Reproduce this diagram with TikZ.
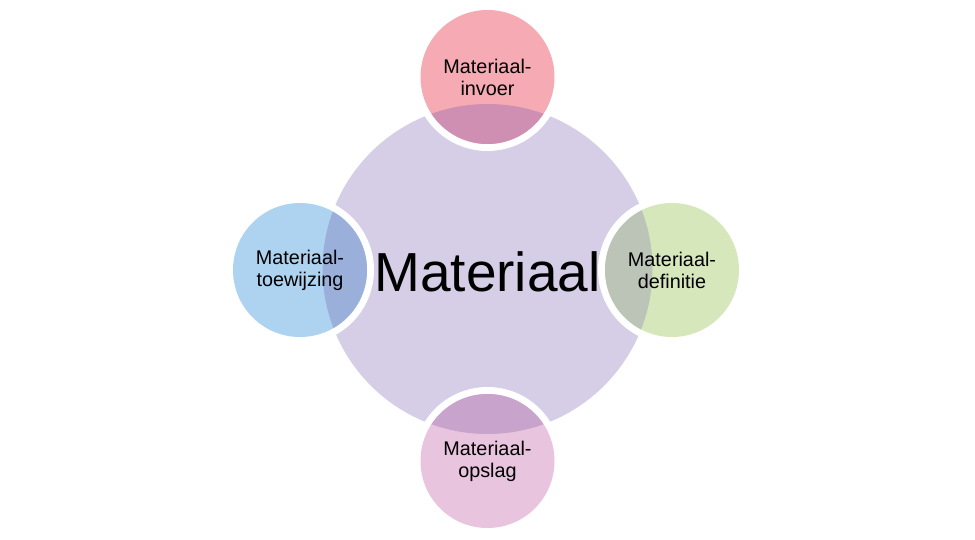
\documentclass[tikz,border=0pt]{standalone}
\usepackage{fontspec}
\setmainfont{Liberation Sans}
\usepackage{xcolor}
\usepackage{tikz}

\definecolor{lavendel}{HTML}{D5CEE6}
\definecolor{roze}{HTML}{F5AAB4}
\definecolor{rozemix}{HTML}{CF8FB2}
\definecolor{groen}{HTML}{D7E7BC}
\definecolor{groenmix}{HTML}{BCC3B7}
\definecolor{blauw}{HTML}{AED3F0}
\definecolor{blauwmix}{HTML}{9BAFDB}
\definecolor{paars}{HTML}{E9C4DF}
\definecolor{paarsmix}{HTML}{C8A3CB}

\begin{document}
\begin{tikzpicture}[x=1pt, y=1pt,
		bubbletext/.style={align=center, font=\fontsize{19.8}{22}\selectfont},
		maintext/.style={font=\fontsize{55}{60}\selectfont}]
	\useasboundingbox (0,0) rectangle (975,539);
	\coordinate (mat) at (487.5,270);
	\coordinate (invoer) at (487.5,462);
	\coordinate (definitie) at (672,269);
	\coordinate (opslag) at (487.5,78);
	\coordinate (toewijzing) at (300,269);

	\fill[lavendel] (mat) circle (165);
	% witte randen
	\fill[white] (invoer) circle (74);
	\fill[white] (definitie) circle (74);
	\fill[white] (opslag) circle (74);
	\fill[white] (toewijzing) circle (74);
	\fill[roze] (invoer) circle (67);
	\fill[groen] (definitie) circle (67);
	\fill[paars] (opslag) circle (67);
	\fill[blauw] (toewijzing) circle (67);
	\begin{scope}
		\clip (mat) circle (165);
		\fill[rozemix] (invoer) circle (67);
		\fill[groenmix] (definitie) circle (67);
		\fill[paarsmix] (opslag) circle (67);
		\fill[blauwmix] (toewijzing) circle (67);
	\end{scope}

	\node[maintext] (tmat) at (487.5,267) {Materiaal};
	\node[bubbletext] (tinvoer) at (invoer) {Materiaal-\\invoer};
	\node[bubbletext] (tdefinitie) at (definitie) {Materiaal-\\definitie};
	\node[bubbletext] (topslag) at (opslag) {Materiaal-\\opslag};
	\node[bubbletext] (ttoewijzing) at (toewijzing) {Materiaal-\\toewijzing};
\end{tikzpicture}
\end{document}
